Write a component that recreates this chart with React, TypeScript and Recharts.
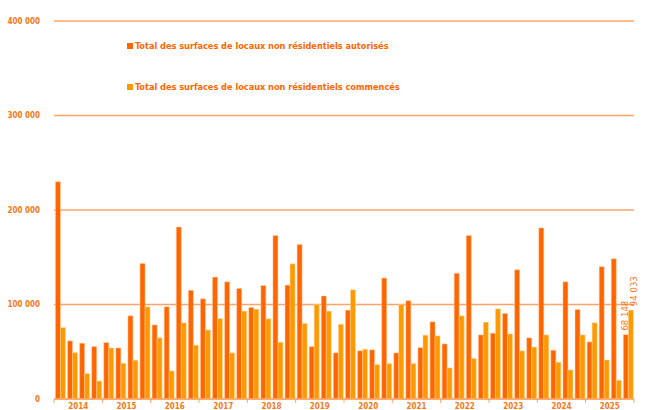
import { BarChart, Bar, XAxis, YAxis, CartesianGrid } from 'recharts';

const years = ['2014', '2015', '2016', '2017', '2018', '2019', '2020', '2021', '2022', '2023', '2024', '2025'];
const quarters = ['T1', 'T2', 'T3', 'T4'];

// surfaces autorisées (m²), par trimestre
const autorises = [
    230000, 61500, 59000, 55500,
    59700, 54000, 88000, 143500,
    78400, 97500, 182000, 115000,
    106000, 129000, 124000, 117000,
    96800, 120000, 173000, 120500,
    163600, 55500, 109000, 48800,
    94000, 51000, 52000, 128000,
    48800, 104000, 54400, 81600,
    58300, 133000, 173000, 67800,
    69600, 90500, 136700, 64700,
    181000, 51600, 124000, 94700,
    60400, 140000, 148400, 68148,
];

// surfaces commencées (m²), par trimestre
const commences = [
    75600, 49000, 27000, 19000,
    54000, 37800, 41000, 97500,
    64700, 29700, 80600, 57000,
    73000, 85000, 48800, 93000,
    95000, 84800, 60000, 143000,
    80000, 100000, 93000, 79000,
    115500, 52600, 36400, 37500,
    100000, 37500, 67500, 66800,
    32900, 88000, 42800, 81300,
    95400, 68900, 50900, 55000,
    67800, 38900, 30700, 67800,
    80600, 41300, 19800, 94033,
];

const yTicks = [0, 100000, 200000, 300000, 400000];

const legendItems = [
    'Total des surfaces de locaux non résidentiels autorisés',
    'Total des surfaces de locaux non résidentiels commencés',
];

const data = autorises.map((v, i) => ({
    periode: `${years[Math.floor(i / 4)]} ${quarters[i % 4]}`,
    year: years[Math.floor(i / 4)],
    autorises: v,
    commences: commences[i],
}));

const FONT = '"DejaVu Sans Condensed", "DejaVu Sans", sans-serif';
const ORANGE = '#FF6600';
const YELLOW = '#FF9900';
const TEXT = '#F47A20';
const GRID = '#FFA468';

const W = 665;
const H = 410;
const M = { top: 21, right: 31, bottom: 0, left: 0 };
const Y_W = 54;
const BAND = (W - M.left - M.right - Y_W) / data.length;

const fmt = (v: number) => v.toLocaleString('fr-FR').replace(/\s/g, ' ');

function YearTick({ x, y, index }: any) {
    const left = x - BAND / 2;
    const right = x + BAND / 2;
    return (
        <g>
            {index % 4 === 0 && <line x1={left} x2={left} y1={y} y2={y + 4} stroke={GRID} strokeWidth={1} />}
            {index === data.length - 1 && <line x1={right} x2={right} y1={y} y2={y + 4} stroke={GRID} strokeWidth={1} />}
            {index % 4 === 1 && (
                <text x={right} y={y + 10} textAnchor="middle" fill={TEXT} fontSize={8} fontWeight="bold" fontFamily={FONT}>
                    {data[index].year}
                </text>
            )}
        </g>
    );
}

const lastLabel = (dx: number) => (props: any) => {
    const { x, y, width, value, index } = props;
    if (index !== data.length - 1) return null;
    const tx = x + width / 2 + dx;
    const ty = y - 4;
    return (
        <text x={tx} y={ty} transform={`rotate(-90, ${tx}, ${ty})`} fill={TEXT} fontSize={9.5} fontFamily={FONT}>
            {fmt(value)}
        </text>
    );
};

export default function App() {
    const colors = [ORANGE, YELLOW];
    return (
        <div style={{ position: 'absolute', left: 0, top: 0, width: W, height: H, background: '#fff' }}>
            <BarChart width={W} height={H} data={data} margin={M} barCategoryGap="12%" barGap={0}>
                <CartesianGrid vertical={false} stroke={GRID} strokeWidth={1.5} />
                <XAxis
                    dataKey="periode"
                    height={11}
                    interval={0}
                    tickLine={false}
                    tickSize={0}
                    tickMargin={0}
                    axisLine={{ stroke: GRID, strokeWidth: 1.5 }}
                    tick={<YearTick />}
                />
                <YAxis
                    width={Y_W}
                    domain={[0, 400000]}
                    ticks={yTicks}
                    axisLine={false}
                    tickLine={false}
                    tickMargin={8}
                    tickFormatter={fmt}
                    tick={{ fill: TEXT, fontSize: 8, fontWeight: 'bold', fontFamily: FONT }}
                />
                <Bar dataKey="autorises" name={legendItems[0]} fill={ORANGE}
                    stroke="#FFC9A0" strokeWidth={0.5} isAnimationActive={false} label={lastLabel(2)} />
                <Bar dataKey="commences" name={legendItems[1]} fill={YELLOW}
                    stroke="#FFD9A0" strokeWidth={0.5} isAnimationActive={false} label={lastLabel(6)} />
            </BarChart>
            <div style={{ position: 'absolute', left: 127, top: 40, fontFamily: FONT, fontWeight: 'bold', fontSize: 9.1, color: ORANGE }}>
                {legendItems.map((t, i) => (
                    <div key={i} style={{ display: 'flex', alignItems: 'center', height: 12, marginBottom: i === 0 ? 29 : 0 }}>
                        <span style={{ width: 6, height: 6, background: colors[i], marginRight: 2, display: 'inline-block' }} />
                        <span>{t}</span>
                    </div>
                ))}
            </div>
        </div>
    );
}
